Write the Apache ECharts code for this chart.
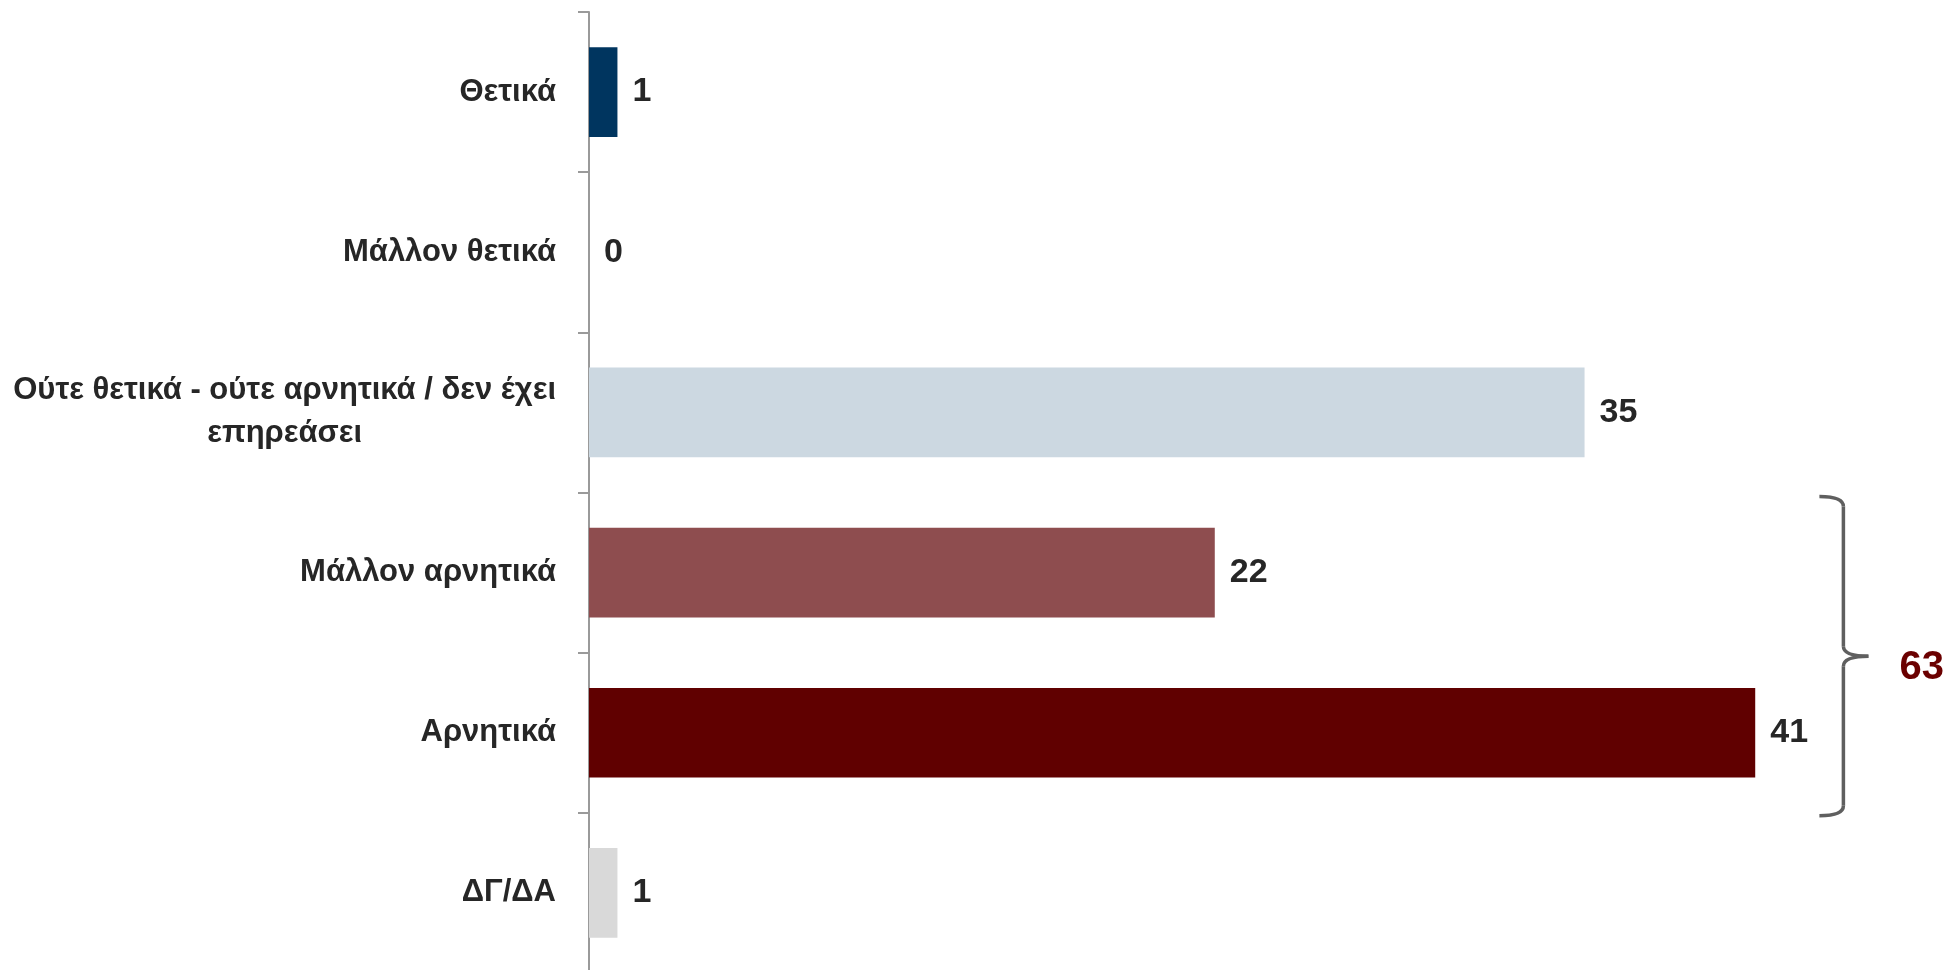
<!DOCTYPE html>
<html>
<head>
<meta charset="utf-8">
<script src="https://cdn.jsdelivr.net/npm/echarts@6/dist/echarts.min.js"></script>
<style>
html,body{margin:0;padding:0;background:#fff;}
#main{width:1944px;height:970px;}
</style>
</head>
<body>
<div id="main"></div>
<script>
const categories = ['Θετικά', 'Μάλλον θετικά', 'Ούτε θετικά - ούτε αρνητικά / δεν έχει\nεπηρεάσει', 'Μάλλον αρνητικά', 'Αρνητικά', 'ΔΓ/ΔΑ'];
const values = [1, 0, 35, 22, 41, 1];
const barColors = ['#00355F', '#00355F', '#CCD8E1', '#8E4D4F', '#600000', '#D9D9D9'];
const bracketFrom = 3;   // index of first bracketed category
const bracketTo = 4;     // index of last bracketed category
const bracketTotal = 63;

const FONT = '"Liberation Sans Narrow", "Arial Narrow", "Liberation Sans", Arial, sans-serif';
const TEXT = '#262626';
const LABEL_SIZE = 31;

const chart = echarts.init(document.getElementById('main'), null, {renderer: 'canvas'});

chart.setOption({
  backgroundColor: '#ffffff',
  animation: false,
  grid: {left: 589, top: 12, width: 1280, height: 961, containLabel: false, outerBoundsMode: 'none'},
  xAxis: {
    type: 'value', min: 0, max: 45, show: false
  },
  yAxis: {
    type: 'category',
    inverse: true,
    data: categories,
    axisLine: {show: true, lineStyle: {color: '#9A9A9A', width: 2}},
    axisTick: {show: true, length: 11, lineStyle: {color: '#9A9A9A', width: 2}},
    splitLine: {show: false},
    axisLabel: {
      margin: 33,
      formatter: function (v) {
        return v.split('\n').map(function (l) { return '{c|' + l + '}'; }).join('\n');
      },
      rich: {
        c: {align: 'center', fontFamily: FONT, fontSize: LABEL_SIZE, fontWeight: 'bold', color: TEXT, lineHeight: 43}
      },
      fontFamily: FONT, fontSize: LABEL_SIZE, fontWeight: 'bold', color: TEXT, lineHeight: 43
    }
  },
  series: [{
    type: 'bar',
    data: values.map(function (v, i) { return {value: v, itemStyle: {color: barColors[i]}}; }),
    barCategoryGap: '44%',
    label: {
      show: true, position: 'right', distance: 15,
      fontFamily: FONT, fontSize: 34, fontWeight: 'bold', color: TEXT
    }
  }]
});

// bracket annotation positioned from the axes
const c0 = chart.convertToPixel({yAxisIndex: 0}, bracketFrom);
const c1 = chart.convertToPixel({yAxisIndex: 0}, bracketTo);
const band = c1 - c0;
const yTop = c0 - band / 2 + 4;
const yBot = c1 + band / 2 + 3;
const yMid = (yTop + yBot) / 2;
const xv = chart.convertToPixel({xAxisIndex: 0}, 44.1);
const xl = xv - 24, xp = xv + 25, r = 10;
const bStyle = {fill: null, stroke: '#5F5F5F', lineWidth: 3.5};

chart.setOption({
  graphic: [
    {type: 'bezierCurve', shape: {x1: xl, y1: yTop, x2: xv, y2: yTop + r, cpx1: xv, cpy1: yTop}, style: bStyle},
    {type: 'line', shape: {x1: xv, y1: yTop + r, x2: xv, y2: yMid - r}, style: bStyle},
    {type: 'bezierCurve', shape: {x1: xv, y1: yMid - r, x2: xp, y2: yMid, cpx1: xv, cpy1: yMid}, style: bStyle},
    {type: 'bezierCurve', shape: {x1: xp, y1: yMid, x2: xv, y2: yMid + r, cpx1: xv, cpy1: yMid}, style: bStyle},
    {type: 'line', shape: {x1: xv, y1: yMid + r, x2: xv, y2: yBot - r}, style: bStyle},
    {type: 'bezierCurve', shape: {x1: xv, y1: yBot - r, x2: xl, y2: yBot, cpx1: xv, cpy1: yBot}, style: bStyle},
    {type: 'text', x: xp + 31, y: yMid + 12,
     style: {text: String(bracketTotal), fontFamily: FONT, fontSize: 40, fontWeight: 'bold', fill: '#6B0000',
             verticalAlign: 'middle', align: 'left'}}
  ]
});
</script>
</body>
</html>
